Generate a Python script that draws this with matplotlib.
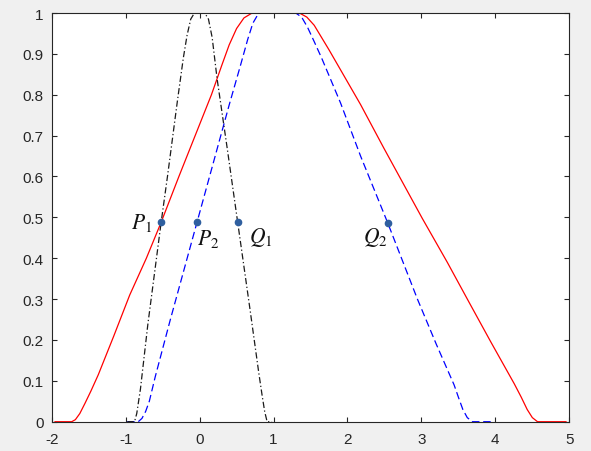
import matplotlib
matplotlib.use('Agg')
import matplotlib.pyplot as plt
from matplotlib.ticker import FormatStrFormatter

plt.rcParams['font.family'] = ['Liberation Sans', 'DejaVu Sans']
plt.rcParams['axes.unicode_minus'] = False
plt.rcParams['mathtext.fontset'] = 'stix'

# red solid curve
red_x = [-1.955, -1.73, -1.68, -1.62, -1.55, -1.47, -1.37, -1.16, -0.945, -0.72, -0.52,
         -0.28, -0.06, 0.16, 0.30, 0.40, 0.50, 0.60, 0.71, 1.35, 1.45, 1.55, 1.65, 1.75,
         2.177, 2.493, 3.01, 3.35, 3.645, 3.939, 4.255, 4.35, 4.43, 4.50, 4.57, 4.955]
red_y = [0, 0, 0.005, 0.02, 0.045, 0.075, 0.115, 0.21, 0.31, 0.40, 0.488,
         0.60, 0.70, 0.80, 0.872, 0.922, 0.962, 0.988, 1.0, 1.0, 0.99, 0.97, 0.94, 0.91,
         0.776, 0.669, 0.498, 0.39, 0.292, 0.195, 0.093, 0.06, 0.03, 0.01, 0, 0]

# blue dashed curve
blue_x = [-0.98, -0.83, -0.78, -0.73, -0.68, -0.60, -0.40, -0.20, -0.035, 0.20, 0.40,
          0.55, 0.65, 0.72, 0.80, 1.30, 1.38, 1.46, 1.55, 1.65, 1.906, 2.177, 2.543,
          2.946, 3.20, 3.442, 3.50, 3.56, 3.62, 3.69, 3.96]
blue_y = [0, 0, 0.008, 0.025, 0.05, 0.11, 0.247, 0.379, 0.488, 0.643, 0.775,
          0.87, 0.935, 0.975, 1.0, 1.0, 0.99, 0.965, 0.93, 0.89, 0.78, 0.65, 0.487,
          0.30, 0.19, 0.09, 0.06, 0.03, 0.01, 0, 0]

# black dash-dot curve
black_x = [-0.976, -0.88, -0.85, -0.80, -0.70, -0.52, -0.433, -0.30, -0.22, -0.17, -0.12,
           -0.07, 0.07, 0.12, 0.17, 0.236, 0.371, 0.515, 0.687, 0.80, 0.845, 0.88, 0.913, 0.98]
black_y = [0, 0, 0.02, 0.08, 0.238, 0.488, 0.602, 0.785, 0.89, 0.945, 0.985,
           1.0, 1.0, 0.985, 0.94, 0.84, 0.672, 0.488, 0.268, 0.12, 0.065, 0.025, 0, 0]

# marked points
point_x = [-0.519, -0.035, 0.515, 2.543]
point_y = [0.488, 0.488, 0.488, 0.487]
point_labels = ['$P_1$', '$P_2$', '$Q_1$', '$Q_2$']

fig = plt.figure(figsize=(5.91, 4.52), dpi=100)
fig.patch.set_facecolor('#f0f0f0')
ax = fig.add_axes([0.0875, 0.0648, 0.8758, 0.9042])

ax.plot(red_x, red_y, color='#ff0000', lw=0.9)
ax.plot(blue_x, blue_y, color='#0000ff', lw=0.9, dashes=[6, 3])
ax.plot(black_x, black_y, color='#1a1a1a', lw=0.9, dashes=[5, 2, 1, 2])
ax.plot(point_x, point_y, 'o', color='#2f5f9f', markersize=4.5, zorder=5)

# label offsets (data units), left edge / baseline
offs = [(-0.41, -0.015), (0.005, -0.053), (0.155, -0.048), (-0.33, -0.047)]
for px, py, lab, (dx, dy) in zip(point_x, point_y, point_labels, offs):
    ax.text(px + dx, py + dy, lab, fontsize=15.5, ha='left', va='baseline', color='#111111')

ax.set_xlim(-2, 5)
ax.set_ylim(0, 1)
ax.set_xticks(range(-2, 6))
ax.set_yticks([i / 10 for i in range(11)])
ax.yaxis.set_major_formatter(FormatStrFormatter('%g'))

for s in ax.spines.values():
    s.set_color('#262626')
    s.set_linewidth(0.8)
ax.tick_params(direction='in', length=3.6, width=0.8, colors='#262626',
               top=True, right=True, labelsize=11)
ax.tick_params(axis='x', pad=7.5)
ax.tick_params(axis='y', pad=6)

fig.savefig('out.png', dpi=100, facecolor=fig.get_facecolor())
